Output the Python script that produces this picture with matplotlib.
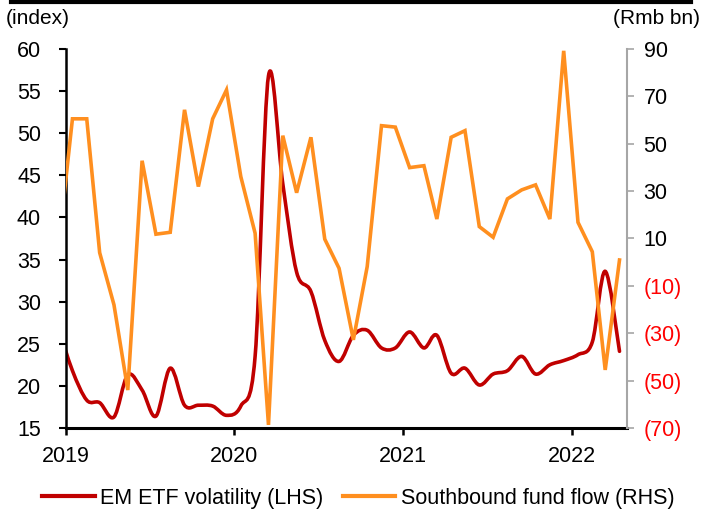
import numpy as np
import pandas as pd
import matplotlib
matplotlib.use("Agg")
import matplotlib.pyplot as plt
import matplotlib.dates as mdates
from matplotlib.path import Path
from matplotlib.patches import PathPatch
from matplotlib.lines import Line2D

plt.rcParams['font.family'] = ['Liberation Sans', 'DejaVu Sans']

# monthly data, plotted mid-month (Dec-2018 to Apr-2022)
months = pd.date_range("2018-12-01", "2022-04-01", freq="MS") + pd.Timedelta(days=14)

volatility = [27.0,
              21.8, 18.3, 18.0, 16.3, 21.3, 19.5, 16.4, 22.1, 17.7, 17.7, 17.6, 16.5,
              17.6, 23.5, 56.8, 44.0, 33.5, 31.2, 25.4, 22.9, 26.0, 26.6, 24.5, 24.5,
              26.4, 24.5, 26.0, 21.5, 22.1, 20.1, 21.4, 21.8, 23.5, 21.4, 22.5, 23.0,
              23.7, 25.2, 33.6, 24.1]

flow = [5.0,
        60.5, 60.5, 4.0, -18.0, -54.0, 42.8, 11.8, 12.6, 64.3, 31.9, 60.5, 72.7,
        36.1, 12.2, -68.7, 53.4, 29.3, 52.7, 9.7, -2.6, -32.8, -1.9, 57.6, 57.0,
        39.9, 40.7, 18.2, 52.7, 55.5, 15.0, 10.5, 26.7, 30.5, 32.6, 18.2, 89.2,
        16.8, 4.4, -45.5, 0.9]

left_ticks = [15, 20, 25, 30, 35, 40, 45, 50, 55, 60]
right_ticks = [90, 70, 50, 30, 10, -10, -30, -50, -70]
right_labels = ["90", "70", "50", "30", "10", "(10)", "(30)", "(50)", "(70)"]

RED = "#C00000"
ORANGE = "#FF8F1F"
FS = 15.5


def smooth_path(x, y):
    # excel-like smoothed line (catmull-rom as bezier)
    pts = np.column_stack([x, y])
    n = len(pts)
    verts = [pts[0]]
    codes = [Path.MOVETO]
    for i in range(n - 1):
        p0 = pts[i - 1] if i > 0 else pts[i]
        p1 = pts[i]
        p2 = pts[i + 1]
        p3 = pts[i + 2] if i + 2 < n else pts[i + 1]
        verts += [p1 + (p2 - p0) / 6, p2 - (p3 - p1) / 6, p2]
        codes += [Path.CURVE4] * 3
    return Path(verts, codes)


fig = plt.figure(figsize=(7.02, 5.15), dpi=100)
ax = fig.add_axes([0.094, 0.169, 0.799, 0.736])
ax2 = ax.twinx()

x = mdates.date2num(months)
ax.add_patch(PathPatch(smooth_path(x, np.array(volatility)), fill=False,
                       edgecolor=RED, lw=2.6, capstyle="round", joinstyle="round"))
ax2.plot(months, flow, color=ORANGE, lw=2.6, solid_joinstyle="miter")

ax.set_xlim(pd.Timestamp("2019-01-01"), pd.Timestamp("2022-05-01"))
ax.set_ylim(15, 60)
ax2.set_ylim(-70, 90)

ax.set_yticks(left_ticks)
ax2.set_yticks(right_ticks)
ax2.set_yticklabels(right_labels)
for lab, v in zip(ax2.get_yticklabels(), right_ticks):
    lab.set_color("#FF0000" if v < 0 else "black")

ax.xaxis.set_major_locator(mdates.YearLocator())
ax.xaxis.set_major_formatter(mdates.DateFormatter("%Y"))

for s in ["top", "right"]:
    ax.spines[s].set_visible(False)
for s in ["top", "left", "bottom"]:
    ax2.spines[s].set_visible(False)
ax.spines["left"].set_linewidth(1.8)
ax.spines["bottom"].set_linewidth(2.2)
ax2.spines["right"].set_color("#A6A6A6")
ax2.spines["right"].set_linewidth(1.5)

ax.tick_params(axis="y", direction="out", length=5, width=1.5, pad=13, labelsize=FS)
ax.tick_params(axis="x", direction="out", length=5, width=1.8, pad=8, labelsize=FS)
ax2.tick_params(axis="y", direction="out", length=5, width=1.2, color="#A6A6A6",
                pad=7, labelsize=FS)

fig.text(0.008, 0.965, "(index)", fontsize=15, va="center", ha="left")
fig.text(0.997, 0.965, "(Rmb bn)", fontsize=15, va="center", ha="right")
fig.add_artist(Line2D([0.015, 0.985], [0.996, 0.996], color="black", lw=3,
                      transform=fig.transFigure))

handles = [Line2D([], [], color=RED, lw=3), Line2D([], [], color=ORANGE, lw=3)]
fig.legend(handles, ["EM ETF volatility (LHS)", "Southbound fund flow (RHS)"],
           loc="center", bbox_to_anchor=(0.51, 0.033), ncol=2, frameon=False,
           fontsize=FS, handlelength=2.45, handletextpad=0.25, columnspacing=0.9,
           borderpad=0)

fig.savefig("out.png", dpi=100)
